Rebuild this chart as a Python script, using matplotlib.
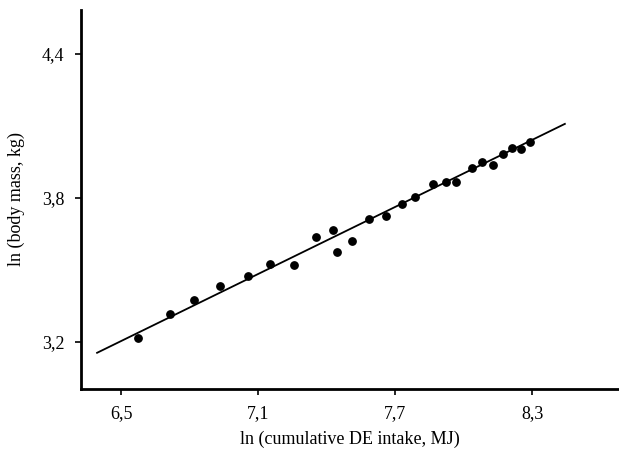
import numpy as np
import matplotlib.pyplot as plt

# ln(cumulative DE intake, MJ) vs ln(body mass, kg)
intake = [6.574, 6.714, 6.819, 6.933, 7.056, 7.152, 7.257, 7.353, 7.427, 7.445,
          7.510, 7.585, 7.660, 7.730, 7.787, 7.865, 7.922, 7.966, 8.036, 8.080,
          8.128, 8.172, 8.211, 8.251, 8.290]
mass = [3.217, 3.317, 3.375, 3.433, 3.475, 3.525, 3.521, 3.638, 3.667, 3.575,
        3.621, 3.712, 3.725, 3.775, 3.804, 3.858, 3.867, 3.867, 3.925, 3.950,
        3.937, 3.983, 4.008, 4.004, 4.033]

fit_x = [6.395, 8.443]
fit_y = [3.154, 4.108]

xticks = [6.5, 7.1, 7.7, 8.3]
yticks = [3.2, 3.8, 4.4]

plt.rcParams['font.family'] = ['Liberation Serif', 'DejaVu Serif']

fig = plt.figure(figsize=(6.19, 4.5), dpi=100)
ax = fig.add_axes([0.131, 0.136, 0.869, 0.842])

ax.plot(fit_x, fit_y, color='black', lw=1.3)
ax.scatter(intake, mass, s=28, color='black', zorder=3)

ax.set_xlim(6.325, 8.68)
ax.set_ylim(3.004, 4.583)
ax.set_xticks(xticks)
ax.set_yticks(yticks)
ax.set_xticklabels([str(t).replace('.', ',') for t in xticks], fontsize=13)
ax.set_yticklabels([str(t).replace('.', ',') for t in yticks], fontsize=13)
ax.tick_params(direction='out', length=4, width=1.2, pad=8)

for s in ['top', 'right']:
    ax.spines[s].set_visible(False)
for s in ['left', 'bottom']:
    ax.spines[s].set_linewidth(2)

ax.set_xlabel('ln (cumulative DE intake, MJ)', fontsize=13, labelpad=6)
ax.set_ylabel('ln (body mass, kg)', fontsize=13, labelpad=12)

plt.savefig('out.png', dpi=100)
